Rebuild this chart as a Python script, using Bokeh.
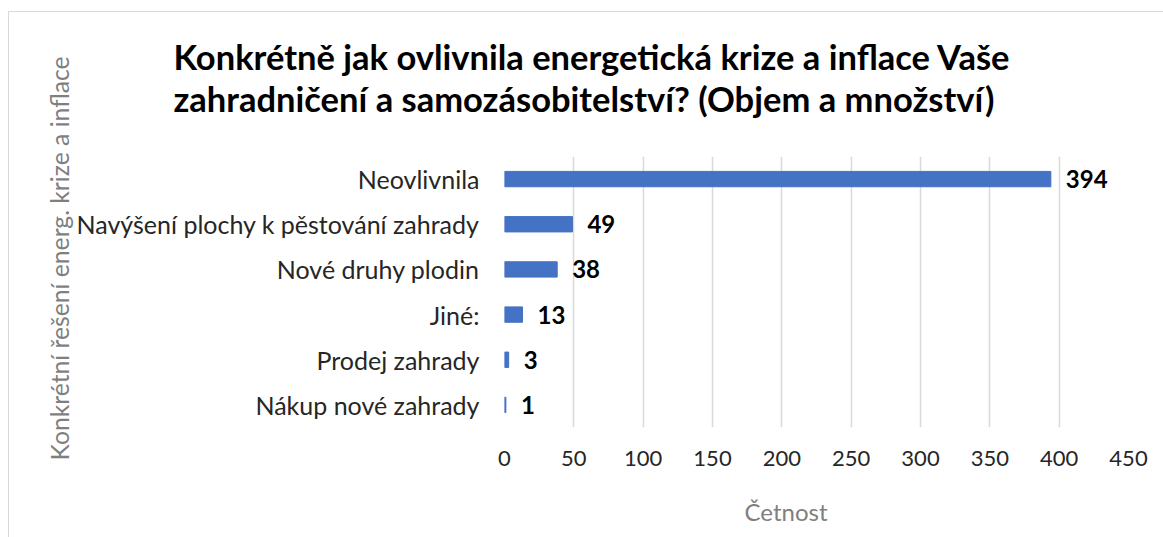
from bokeh.plotting import figure
from bokeh.models import ColumnDataSource, FactorRange, Title, FixedTicker, Range1d, LinearAxis
from bokeh.core.properties import value
from bokeh.embed import file_html
from bokeh.resources import INLINE

categories = ["Neovlivnila", "Navýšení plochy k pěstování zahrady", "Nové druhy plodin",
              "Jiné:", "Prodej zahrady", "Nákup nové zahrady"]
counts = [394, 49, 38, 13, 3, 1]
x_ticks = [0, 50, 100, 150, 200, 250, 300, 350, 400, 450]

title_lines = ["Konkrétně jak ovlivnila energetická krize a inflace Vaše",
               "zahradničení a samozásobitelství? (Objem a množství)"]
y_title = "Konkrétní řešení energ. krize a inflace"
x_title = "Četnost"

FONT = "Lato"

W, H = 1163, 537
p = figure(width=W, height=H, output_backend="svg", toolbar_location=None,
           y_range=FactorRange(*list(reversed(categories)), range_padding=0),
           x_range=Range1d(0, 450),
           min_border_left=504, min_border_right=35, min_border_top=156, min_border_bottom=110)
p.outline_line_color = None
p.background_fill_color = "white"
p.border_fill_color = None
p.styles = {
    "background": "linear-gradient(#d9d9d9,#d9d9d9) 8px 11px / 1px 100% no-repeat, "
                  "linear-gradient(#d9d9d9,#d9d9d9) 8px 11px / 100% 1px no-repeat, white"
}

src = ColumnDataSource(dict(cat=categories, val=counts, lbl=[str(v) for v in counts]))
p.hbar(y="cat", right="val", left=0, height=0.34, source=src, color="#4472C4")
p.text(x="val", y="cat", text="lbl", source=src, x_offset=15, text_align="left",
       text_baseline="middle", text_font=value(FONT), text_font_style="bold",
       text_font_size="24px", text_color="#000000")

p.xaxis.ticker = FixedTicker(ticks=x_ticks)
p.xaxis.axis_line_color = None
p.xaxis.major_tick_line_color = None
p.xaxis.minor_tick_line_color = None
p.xaxis.major_label_text_font = FONT
p.xaxis.major_label_text_font_size = "22px"
p.xaxis.major_label_text_color = "#262626"
p.xaxis.major_label_standoff = 17

p.yaxis.axis_line_color = None
p.yaxis.major_tick_line_color = None
p.yaxis.major_label_text_font = FONT
p.yaxis.major_label_text_font_size = "25px"
p.yaxis.major_label_text_color = "#262626"
p.yaxis.major_label_standoff = 19

p.xgrid.grid_line_color = "#d9d9d9"
p.xgrid.grid_line_width = 1.5
p.ygrid.grid_line_color = None


def spacer(size):
    # an empty axis that only reserves room: one white tick at the far right, no labels
    return LinearAxis(ticker=FixedTicker(ticks=[450]), axis_line_color=None,
                      major_tick_line_color="white", minor_tick_line_color=None,
                      major_tick_out=size, major_tick_in=0, minor_tick_out=0,
                      major_label_text_color=None, major_label_standoff=0)


# above: spacer next to the frame, then the two-line title
p.add_layout(spacer(36), "above")
p.add_layout(Title(text="\n".join(title_lines), align="left", offset=-331, standoff=2,
                   text_font=FONT, text_font_style="bold", text_font_size="34.5px",
                   text_line_height=1.04, text_color="#000000"), "above")

p.add_layout(Title(text=y_title, align="left", offset=-33, standoff=0,
                   text_font=FONT, text_font_style="normal", text_font_size="24.7px",
                   text_color="#7f7f7f"), "left")

# below: axis, spacer, axis title
p.add_layout(spacer(24), "below")
p.add_layout(Title(text=x_title, align="left", offset=240, standoff=4,
                   text_font=FONT, text_font_style="normal", text_font_size="24px",
                   text_line_height=1.0, text_color="#7f7f7f"), "below")

open("out.html", "w").write(file_html(p, INLINE))
